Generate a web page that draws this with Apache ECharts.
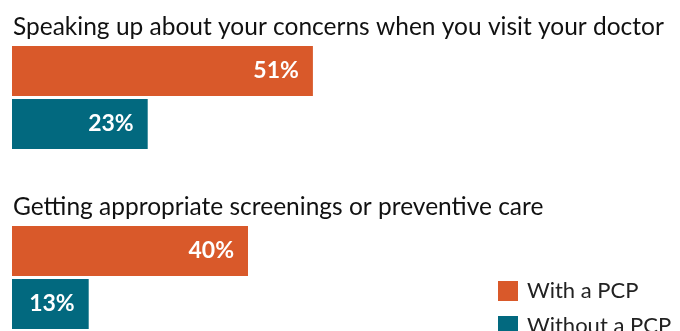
<!DOCTYPE html>
<html><head><meta charset="utf-8">
<script src="https://cdn.jsdelivr.net/npm/echarts@6/dist/echarts.min.js"></script>
<style>html,body{margin:0;padding:0;background:#fff}#c{width:680px;height:331px}</style>
</head><body><div id="c"></div>
<script>
const categories = ["Speaking up about your concerns when you visit your doctor", "Getting appropriate screenings or preventive care"];
const seriesNames = ["With a PCP", "Without a PCP"];
const withPCP = [51, 40];
const withoutPCP = [23, 13];
const colors = ["#D9592A", "#02697F"];

const chart = echarts.init(document.getElementById('c'), null, {renderer: 'canvas'});
const labelStyle = {show: true, position: 'insideRight', distance: 14, color: '#fff', fontFamily: 'Lato', fontWeight: 'bold', fontSize: 23, formatter: p => p.value + '%'};
chart.setOption({
  animation: false,
  grid: {left: 12, width: 590, top: 7.5, height: 360, outerBoundsMode: 'none', containLabel: false},
  legend: {data: seriesNames, orient: 'vertical', left: 498, top: 280, height: 80, padding: 0, itemWidth: 20, itemHeight: 20, itemGap: 13, icon: 'rect',
    textStyle: {fontFamily: 'Lato', fontSize: 22, color: '#222', padding: [0, 0, 0, 4]}},
  xAxis: {type: 'value', min: 0, max: 100, show: false},
  yAxis: {type: 'category', data: categories, inverse: true, axisLine: {show: false}, axisTick: {show: false},
    axisLabel: {inside: true, margin: 1, formatter: v => '{a|' + v + '}\n{b|}',
      rich: {a: {fontFamily: 'Lato', fontSize: 24.5, lineHeight: 28, color: '#111'}, b: {lineHeight: 141}}}},
  series: [
    {name: seriesNames[0], type: 'bar', data: withPCP, barWidth: 50, barGap: '6%', itemStyle: {color: colors[0]}, label: labelStyle},
    {name: seriesNames[1], type: 'bar', data: withoutPCP, barWidth: 50, barGap: '6%', itemStyle: {color: colors[1]}, label: labelStyle}
  ]
});
</script></body></html>
